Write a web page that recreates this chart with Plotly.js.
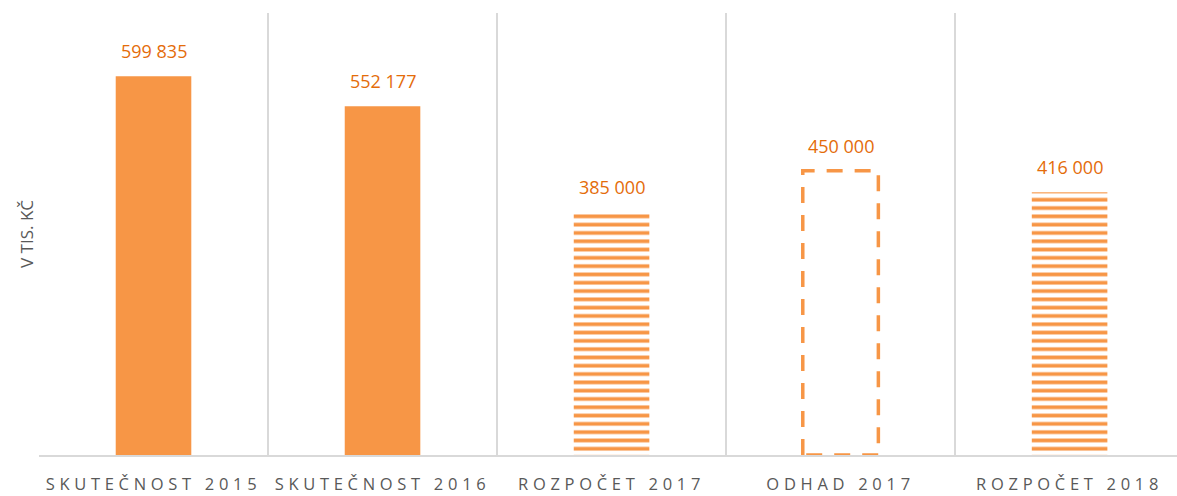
<!DOCTYPE html>
<html>
<head>
<meta charset="utf-8">
<script src="https://cdn.plot.ly/plotly-3.0.1.min.js"></script>
<style>
  html, body { margin: 0; padding: 0; background: #ffffff; }
  #plot { width: 1177px; height: 496px; }
  /* spaced capitals on the category labels */
  #plot .xtick text { letter-spacing: 4.7px; }
</style>
</head>
<body>
<div id="plot"></div>
<script>
// Categories and values (thousands of CZK)
const categories = ["SKUTEČNOST 2015", "SKUTEČNOST 2016", "ROZPOČET 2017", "ODHAD 2017", "ROZPOČET 2018"];
const values = [599835, 552177, 385000, 450000, 416000];
const labels = ["599 835", "552 177", "385 000", "450 000", "416 000"];
// bar style per category: solid, striped or dashed outline
const styles = ["solid", "solid", "striped", "dashed", "striped"];

const ORANGE = "#F79646";
const LABEL = "#E46C0A";
const GRID = "#d9d9d9";
const BAR_W = 0.33;

const xs = categories.map((_, i) => i);

// Main bars
const bars = {
  type: "bar",
  x: xs,
  y: values,
  width: BAR_W,
  marker: {
    color: styles.map(s => s === "dashed" ? "rgba(0,0,0,0)" : ORANGE),
    line: { width: 0 },
    pattern: {
      shape: styles.map(s => s === "striped" ? "-" : ""),
      fgcolor: ORANGE,
      bgcolor: "#ffffff",
      fillmode: "replace",
      size: 8.3,
      solidity: 0.45,
    },
  },
  hoverinfo: "skip",
};

// Dashed outline for the estimate bar, built from its value
const outlines = [];
styles.forEach((s, i) => {
  if (s !== "dashed") return;
  const x0 = i - BAR_W / 2, x1 = i + BAR_W / 2;
  outlines.push({
    type: "scatter",
    mode: "lines",
    x: [x0, x0, x1, x1, x0],
    y: [0, values[i], values[i], 0, 0],
    line: { color: ORANGE, width: 3.5, dash: "16px,12px" },
    hoverinfo: "skip",
  });
});

const annotations = values.map((v, i) => ({
  x: i,
  y: v,
  xref: "x",
  yref: "y",
  text: labels[i],
  showarrow: false,
  yanchor: "bottom",
  yshift: 11,
  font: { family: "Open Sans, sans-serif", size: 18, color: LABEL },
}));

const layout = {
  width: 1177,
  height: 496,
  margin: { l: 39, r: 0, t: 13, b: 41 },
  showlegend: false,
  plot_bgcolor: "#ffffff",
  paper_bgcolor: "#ffffff",
  xaxis: {
    range: [-0.5, 4.469],
    tickmode: "array",
    tickvals: xs,
    ticktext: categories,
    showgrid: false,
    zeroline: false,
    ticks: "",
    ticklabelstandoff: 13,
    tickfont: { family: "Open Sans, sans-serif", size: 16.5, color: "#595959" },
    showline: true,
    linecolor: GRID,
    linewidth: 2,
    minor: {
      tickmode: "array",
      tickvals: [-0.5, 0.5, 1.5, 2.5, 3.5, 4.5],
      showgrid: true,
      gridcolor: GRID,
      gridwidth: 1.5,
      ticks: "",
    },
  },
  yaxis: {
    range: [0, 700000],
    showgrid: false,
    zeroline: false,
    showticklabels: false,
    ticks: "",
    title: {
      text: "V TIS. KČ",
      standoff: 0,
      font: { family: "Open Sans, sans-serif", size: 17, color: "#595959" },
    },
  },
  annotations: annotations,
};

Plotly.newPlot("plot", [bars, ...outlines], layout, { displayModeBar: false, staticPlot: true });
</script>
</body>
</html>
